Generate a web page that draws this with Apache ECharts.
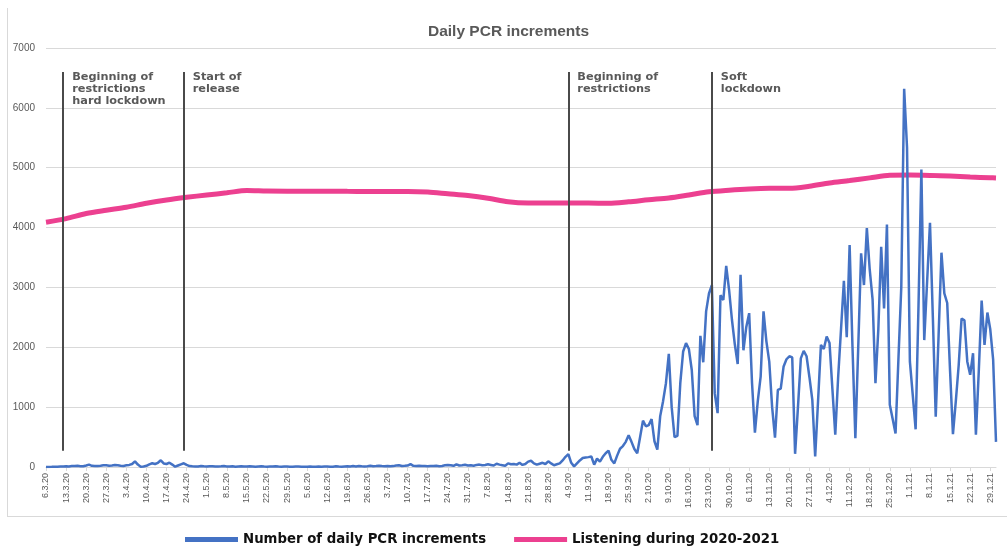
<!DOCTYPE html>
<html>
<head>
<meta charset="utf-8">
<script src="https://cdn.jsdelivr.net/npm/echarts@6/dist/echarts.min.js"></script>
<style>
  html, body { margin: 0; padding: 0; background: #fff; }
  #chart { width: 1007px; height: 550px; }
</style>
</head>
<body>
<div id="chart"></div>
<script>
// daily categories, 6.3.20 .. 31.1.21
const startDate = new Date(2020, 2, 6);
const dayCount = 332;
const days = [];
for (let i = 0; i < dayCount; i++) {
    let d = new Date(startDate.getFullYear(), startDate.getMonth(), startDate.getDate() + i);
    days.push(d.getDate() + '.' + (d.getMonth() + 1) + '.' + String(d.getFullYear()).slice(2));
}

// daily PCR increments, one row per week starting 6.3.20
const pcrDaily = [
    0, 2, 3, 5, 6, 8, 10,
    12, 10, 15, 18, 22, 14, 12,
    25, 40, 20, 15, 18, 22, 30,
    28, 20, 25, 35, 30, 22, 18,
    28, 35, 50, 95, 40, 5, 8,
    20, 45, 62, 50, 70, 112, 60,
    50, 72, 40, 5, 25, 45, 62,
    35, 15, 12, 10, 8, 15, 12,
    10, 14, 12, 8, 10, 12, 15,
    10, 8, 12, 6, 10, 14, 10,
    8, 12, 10, 6, 10, 12, 8,
    6, 10, 8, 12, 7, 5, 9,
    8, 6, 5, 10, 7, 4, 6,
    5, 8, 6, 4, 7, 5, 8,
    10, 6, 5, 12, 8, 6, 9,
    12, 8, 15, 10, 18, 12, 10,
    14, 20, 12, 16, 22, 15, 12,
    18, 12, 15, 25, 30, 18, 20,
    25, 48, 20, 15, 22, 18, 15,
    12, 18, 15, 20, 14, 18, 28,
    35, 30, 20, 45, 25, 30, 38,
    25, 30, 20, 35, 40, 30, 35,
    45, 35, 25, 55, 40, 30, 20,
    60, 45, 50, 40, 70, 35, 50,
    90, 105, 60, 40, 55, 70, 50,
    95, 60, 30, 45, 60, 110, 170,
    215, 70, 10, 60, 110, 150, 160,
    165, 175, 40, 140, 90, 170, 230,
    275, 120, 60, 190, 305, 350, 420,
    530, 420, 300, 230, 500, 775, 680,
    700, 800, 430, 290, 850, 1100, 1400,
    1890, 1000, 500, 520, 1400, 1930, 2070,
    1970, 1620, 850, 700, 2190, 1750, 2600,
    2900, 3040, 1230, 900, 2870, 2790, 3360,
    2960, 2460, 2050, 1720, 3210, 1950, 2340,
    2570, 1400, 575, 1100, 1510, 2600, 2100,
    1760, 1000, 490, 1290, 1310, 1680, 1800,
    1850, 1830, 220, 1000, 1815, 1940, 1850,
    1500, 1120, 175, 1100, 2040, 1970, 2180,
    2070, 1300, 540, 1500, 2300, 3110, 2170,
    3710, 2000, 480, 2000, 3570, 3040, 3990,
    3300, 2800, 1400, 2300, 3680, 2650, 4050,
    1040, 800, 560, 1800, 3010, 6320, 5340,
    1760, 1200, 630, 2700, 4970, 2120, 3100,
    4080, 2500, 840, 2200, 3580, 2900, 2740,
    1600, 550, 1100, 1700, 2480, 2450, 1760,
    1540, 1900, 540, 1600, 2780, 2040, 2580,
    2300, 1800, 420
];

// listening, read once a week (6.3.20, 13.3.20, ...) plus the last day
const listeningWeekly = [
    4090, 4150, 4235, 4290, 4340, 4405, 4460, 4505, 4545, 4580,
    4620, 4610, 4608, 4608, 4608, 4605, 4603, 4603, 4603, 4595,
    4565, 4535, 4490, 4430, 4410, 4410, 4410, 4410, 4405, 4430,
    4465, 4495, 4545, 4598, 4625, 4645, 4655, 4655, 4690, 4745,
    4785, 4830, 4875, 4878, 4872, 4860, 4845, 4832
];
const listeningLast = 4828;

const eventDates = ['12.3.20', '23.4.20', '4.9.20', '24.10.20'];
const eventTexts = [
    'Beginning of\nrestrictions\nhard lockdown',
    'Start of\nrelease',
    'Beginning of\nrestrictions',
    'Soft\nlockdown'
];
const eventLow = 270, eventHigh = 6600;

const pcrName = 'Number of daily PCR increments';
const listenName = 'Listening during 2020-2021';

let listening = days.map(() => null);
listeningWeekly.forEach((v, k) => { listening[k * 7] = v; });
listening[dayCount - 1] = listeningLast;

let chart = echarts.init(document.getElementById('chart'));

chart.setOption({
    animation: false,
    title: {
        text: 'Daily PCR increments',
        left: 423,
        top: 19,
        textStyle: {
            fontFamily: 'Liberation Sans',
            fontSize: 15.5,
            fontWeight: 'bold',
            color: '#595959'
        }
    },
    legend: {
        data: [pcrName, listenName],
        left: 180,
        top: 528,
        icon: 'rect',
        itemWidth: 53,
        itemHeight: 5,
        itemGap: 28,
        textStyle: {
            fontFamily: 'DejaVu Sans',
            fontWeight: 'bold',
            fontSize: 13.3,
            color: '#111'
        }
    },
    grid: {
        left: 46,
        right: 11,
        top: 48,
        bottom: 83
    },
    xAxis: {
        type: 'category',
        data: days,
        boundaryGap: false,
        axisLine: { lineStyle: { color: '#d9d9d9' } },
        axisTick: { interval: 6, length: 4, lineStyle: { color: '#d9d9d9' } },
        axisLabel: {
            interval: 6,
            rotate: 90,
            fontSize: 9,
            margin: 6,
            fontFamily: 'Liberation Sans',
            color: '#595959'
        }
    },
    yAxis: {
        type: 'value',
        min: 0,
        max: 7000,
        interval: 1000,
        axisLine: { show: false },
        axisTick: { show: false },
        splitLine: { lineStyle: { color: '#d9d9d9' } },
        axisLabel: {
            fontSize: 10,
            margin: 11,
            fontFamily: 'Liberation Sans',
            color: '#595959',
            formatter: v => String(v)
        }
    },
    graphic: [
        { type: 'line', shape: { x1: 7.5, y1: 8, x2: 7.5, y2: 516 }, style: { stroke: '#d9d9d9', lineWidth: 1 } },
        { type: 'line', shape: { x1: 7, y1: 516.5, x2: 1007, y2: 516.5 }, style: { stroke: '#d9d9d9', lineWidth: 1 } }
    ],
    series: [
        {
            name: listenName,
            type: 'line',
            data: listening,
            connectNulls: true,
            smooth: 0.3,
            showSymbol: false,
            lineStyle: { color: '#ec4090', width: 5 },
            itemStyle: { color: '#ec4090' }
        },
        {
            name: pcrName,
            type: 'line',
            data: pcrDaily,
            showSymbol: false,
            lineStyle: { color: '#4472c4', width: 2.5 },
            itemStyle: { color: '#4472c4' },
            markLine: {
                silent: true,
                symbol: 'none',
                label: { show: false },
                lineStyle: { color: '#4a4a4a', width: 2, type: 'solid' },
                data: eventDates.map(d => [{ coord: [d, eventLow] }, { coord: [d, eventHigh] }])
            },
            markPoint: {
                silent: true,
                symbol: 'circle',
                symbolSize: 0,
                data: eventDates.map((d, k) => ({
                    coord: [d, eventHigh],
                    label: {
                        show: true,
                        formatter: eventTexts[k],
                        position: [9, -1],
                        align: 'left',
                        verticalAlign: 'top',
                        fontFamily: 'DejaVu Sans',
                        fontWeight: 'bold',
                        fontSize: 11.3,
                        lineHeight: 12.2,
                        color: '#595959'
                    }
                }))
            }
        }
    ]
});
</script>
</body>
</html>
